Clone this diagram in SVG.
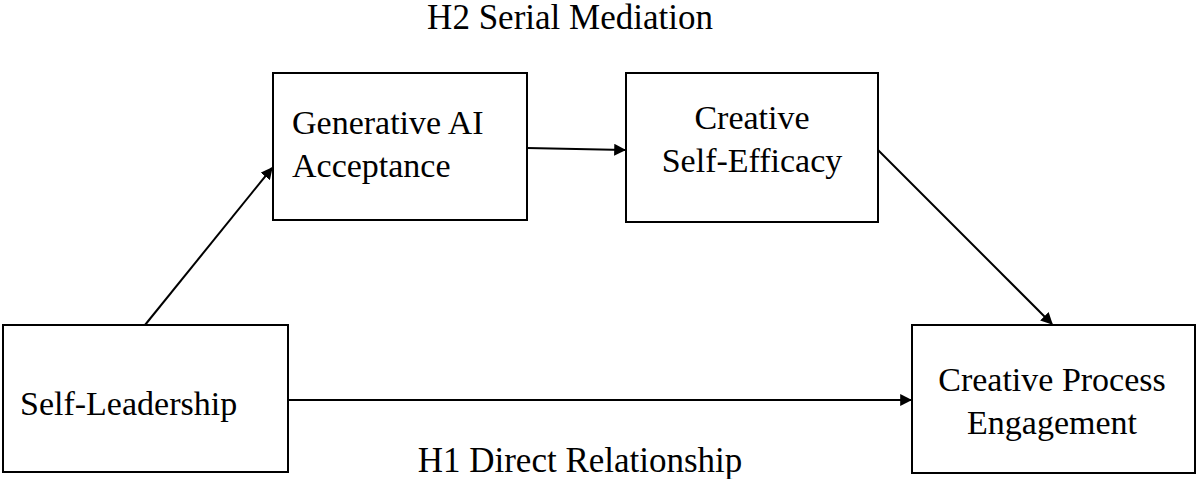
<svg xmlns="http://www.w3.org/2000/svg" width="1200" height="479" viewBox="0 0 1200 479">
<style>
.box{fill:#fff;stroke:#000;stroke-width:2}
.t{font-family:"Liberation Serif",serif;font-size:34px;fill:#000}
.h{font-size:35px}
.c{stroke:#000;stroke-width:2;fill:none;marker-end:url(#a)}
</style>
<defs><marker id="a" viewBox="0 0 10 10" refX="9" refY="5" markerWidth="6" markerHeight="6" orient="auto"><path d="M0,0L10,5L0,10z" fill="#000"/></marker></defs>
<rect width="1200" height="479" fill="#fff"/>
<text class="t h" x="570" y="29" text-anchor="middle">H2 Serial Mediation</text>
<text class="t h" x="580" y="472" text-anchor="middle">H1 Direct Relationship</text>
<g id="gen"><rect class="box" x="273" y="73" width="254" height="147"/><text class="t" x="292" y="134">Generative AI</text><text class="t" x="292" y="177">Acceptance</text></g>
<g id="cse"><rect class="box" x="626" y="73" width="252" height="149"/><text class="t" x="752" y="129" text-anchor="middle">Creative</text><text class="t" x="752" y="172" text-anchor="middle">Self-Efficacy</text></g>
<g id="sl"><rect class="box" x="3" y="325" width="285" height="147"/><text class="t" x="20" y="415">Self-Leadership</text></g>
<g id="cpe"><rect class="box" x="912" y="325" width="283" height="148"/><text class="t" x="1052" y="391" text-anchor="middle">Creative Process</text><text class="t" x="1052" y="434" text-anchor="middle">Engagement</text></g>
<g id="connectors">
<path class="c" d="M145,325L272,168"/>
<path class="c" d="M527,148L625,150"/>
<path class="c" d="M878,150L1052,324"/>
<path class="c" d="M288,400L911,400"/>
</g>
</svg>
